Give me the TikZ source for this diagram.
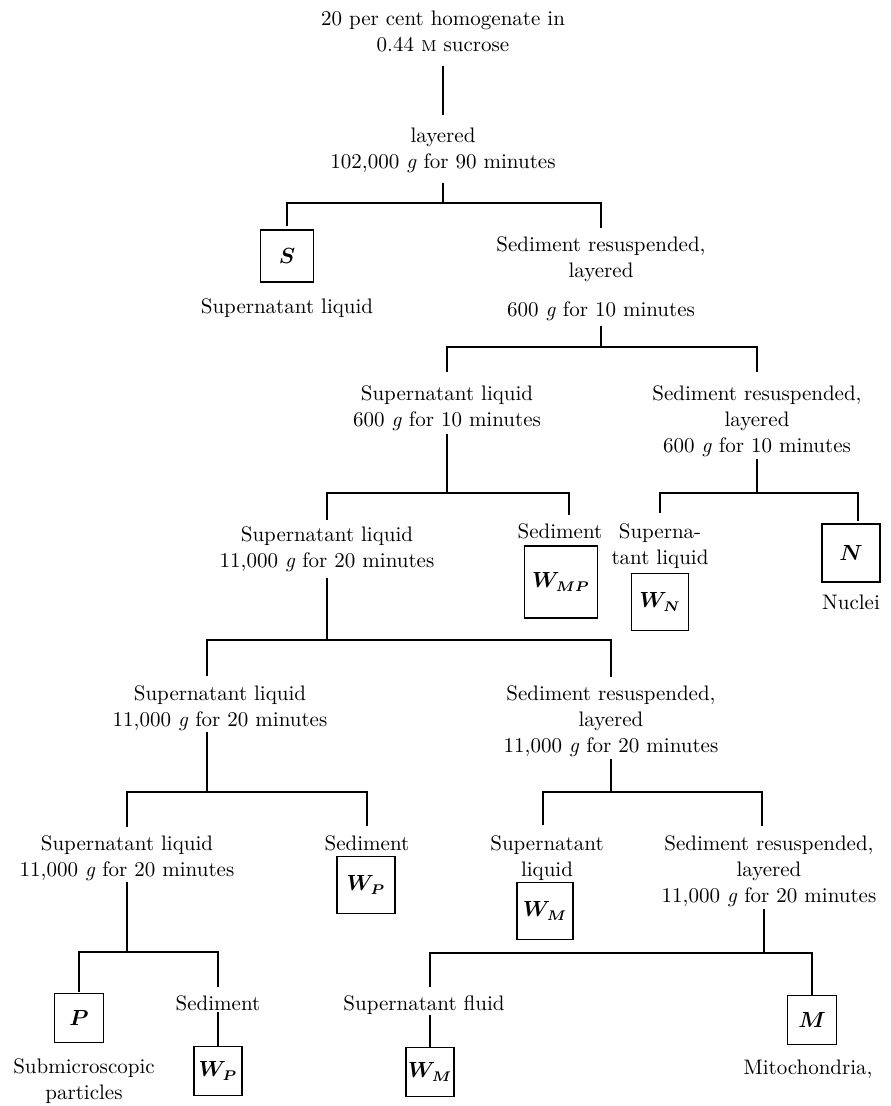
\documentclass[tikz,border=0pt]{standalone}
\begin{document}
\begin{tikzpicture}[x=0.5pt,y=-0.5pt,
  txt/.style={inner sep=0pt, align=center, anchor=north, font=\fontsize{10.5}{13}\selectfont},
  box/.style={draw, line width=0.7pt, inner sep=0pt, font=\fontsize{10.5}{13}\selectfont\boldmath},
  con/.style={line width=0.7pt},
]
\useasboundingbox (0,0) rectangle (890,1106);

% ---------- nodes ----------
\node[txt] (t0) at (443,11) {20 per cent homogenate in\\0.44 \textsc{m} sucrose};
\node[txt] (t1) at (443,128) {layered\\102,000 \textit{g} for 90 minutes};

\node[box, minimum width=26.5pt, minimum height=26pt] (S) at (287,256) {$S$};
\node[txt] (slS) at (287,298) {Supernatant liquid};
\node[txt] (sr1) at (601,236) {Sediment resuspended,\\layered\\[6.5pt]600 \textit{g} for 10 minutes};

\node[txt] (sl2) at (447,385) {Supernatant liquid\\600 \textit{g} for 10 minutes};
\node[txt] (sr2) at (757,385) {Sediment resuspended,\\layered\\600 \textit{g} for 10 minutes};

\node[txt] (sl3) at (327,526) {Supernatant liquid\\11,000 \textit{g} for 20 minutes};
\node[txt] (sed3) at (560,523) {Sediment};
\node[box, minimum width=36.5pt, minimum height=36pt] (WMP) at (561,582) {$W_{MP}$};
\node[txt] (sup3) at (660,523) {Superna-\\tant liquid};
\node[box, minimum width=28.5pt, minimum height=28.5pt] (WN) at (660,602) {$W_N$};
\node[box, minimum width=29pt, minimum height=29pt] (N) at (851,553) {$N$};
\node[txt] (nuc) at (851,595) {Nuclei};

\node[txt] (sl4) at (220,685) {Supernatant liquid\\11,000 \textit{g} for 20 minutes};
\node[txt] (sr4) at (611,685) {Sediment resuspended,\\layered\\11,000 \textit{g} for 20 minutes};

\node[txt] (sl5) at (127,835) {Supernatant liquid\\11,000 \textit{g} for 20 minutes};
\node[txt] (sed5) at (367,835) {Sediment};
\node[box, minimum width=29pt, minimum height=28.5pt] (WP1) at (366,885) {$W_P$};
\node[txt] (sup7) at (547,835) {Supernatant\\liquid};
\node[box, minimum width=28pt, minimum height=28.5pt] (WM1) at (545,911) {$W_M$};
\node[txt] (sr6) at (769,835) {Sediment resuspended,\\layered\\11,000 \textit{g} for 20 minutes};

\node[box, minimum width=24.5pt, minimum height=24.5pt] (P) at (79,1018) {$P$};
\node[txt] (sub) at (84,1058) {Submicroscopic\\particles};
\node[txt] (sed6) at (218,995) {Sediment};
\node[box, minimum width=24pt, minimum height=24.5pt] (WP2) at (218,1071) {$W_P$};
\node[txt] (supf) at (424,995) {Supernatant fluid};
\node[box, minimum width=24pt, minimum height=24.5pt] (WM2) at (430,1072) {$W_M$};
\node[box, minimum width=24.5pt, minimum height=24.5pt] (M) at (812,1020) {$M$};
\node[txt] (mito) at (808,1060) {Mitochondria,};

% ---------- bar coordinates ----------
\coordinate (b1) at (443,203);
\coordinate (b2) at (601,347);
\coordinate (b3) at (447,493);
\coordinate (b4) at (757,493);
\coordinate (b5) at (327,640);
\coordinate (b6) at (207,792);
\coordinate (b7) at (611,792);
\coordinate (b8) at (127,952);
\coordinate (b9) at (764,953);
\coordinate (dsed3) at (569,515);

% ---------- connectors ----------
\draw[con, shorten <=6.5pt, shorten >=6.5pt] (t0.south) -- (t1.north);
\draw[con, shorten <=4.5pt] (t1.south) -- (b1);
\draw[con, shorten <=1.5pt, shorten >=4pt] (S.north) |- (b1) -| (sr1.north);

\draw[con, shorten <=2.5pt] (sr1.south) -- (b2);
\draw[con, shorten <=6.5pt, shorten >=6.5pt] (sl2.north) |- (b2) -| (sr2.north);

\draw[con, shorten <=1.5pt] (sl2.south) -- (b3);
\draw[con, shorten <=3pt] (sl3.north) |- (b3) -| (dsed3);

\draw[con, shorten <=1pt] (sr2.south) -- (b4);
\draw[con, shorten <=5pt, shorten >=1pt] (sup3.north) |- (b4) -| ([xshift=3.5pt]N.north);

\draw[con, shorten <=3pt] (sl3.south) -- (b5);
\draw[con, shorten <=4.5pt, shorten >=4pt] ([xshift=-6.5pt]sl4.north) |- (b5) -| (sr4.north);

\draw[con, shorten <=0.5pt] ([xshift=-6.5pt]sl4.south) -- (b6);
\draw[con, shorten <=4pt, shorten >=4.5pt] (sl5.north) |- (b6) -| (sed5.north);

\draw[con, shorten <=1pt] (sr4.south) -- (b7);
\draw[con, shorten <=5pt, shorten >=4.5pt] ([xshift=-2pt]sup7.north) |- (b7) -| ([xshift=-3.5pt]sr6.north);

\draw[con, shorten <=0.5pt] (sl5.south) -- (b8);
\draw[con, shorten <=0.5pt, shorten >=4pt] (P.north) |- (b8) -| (sed6.north);
\draw[con, shorten <=0.5pt] (sed6.south) -- (WP2.north);

\draw[con, shorten <=1pt] ([xshift=-2.5pt]sr6.south) -- (b9);
\draw[con, shorten <=4pt] ([xshift=3pt]supf.north) |- (b9) -| (M.north);
\draw[con] ([xshift=3pt]supf.south) -- (WM2.north);
\end{tikzpicture}
\end{document}
